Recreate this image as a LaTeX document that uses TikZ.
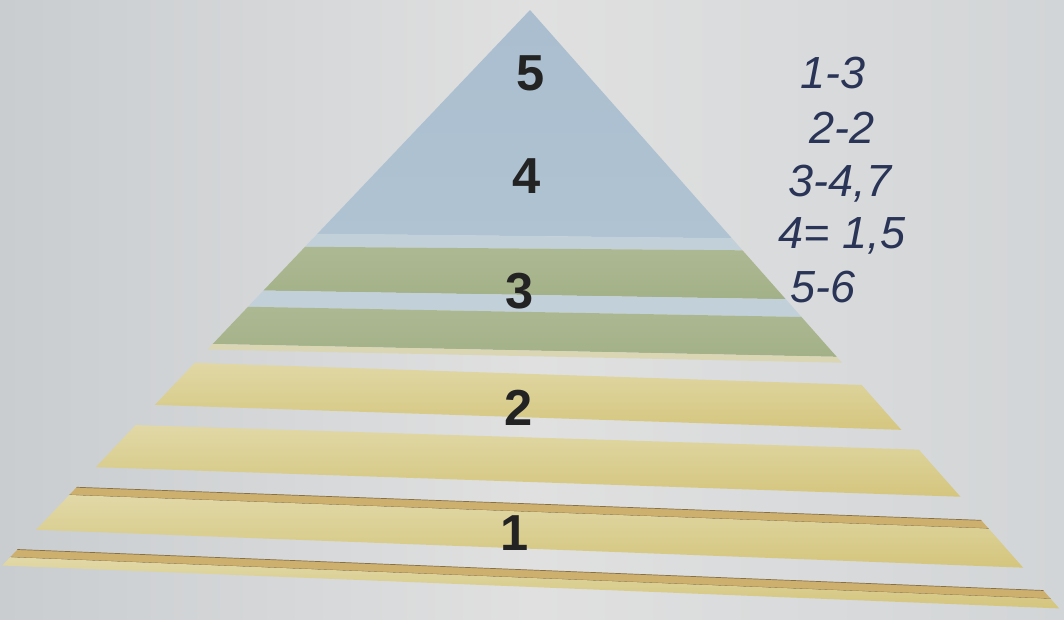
\documentclass[tikz,border=0pt]{standalone}
\usepackage{fontspec}
\setmainfont{Liberation Sans}
\newfontfamily\handfont{Liberation Sans}
\definecolor{paperL}{HTML}{C9CDD0}
\definecolor{paperM}{HTML}{E0E0E0}
\definecolor{paperR}{HTML}{D2D5D7}
\definecolor{blueA}{HTML}{A9BDCF}
\definecolor{blueB}{HTML}{B0C3D2}
\definecolor{pblue}{HTML}{C2D0DA}
\definecolor{greenA}{HTML}{ADB993}
\definecolor{greenB}{HTML}{A2B087}
\definecolor{creamc}{HTML}{DAD6B4}
\definecolor{yelA}{HTML}{E1D9A9}
\definecolor{yelB}{HTML}{D4C57C}
\definecolor{brownA}{HTML}{CDB06E}
\definecolor{brownD}{HTML}{85704A}
\definecolor{digitc}{HTML}{232323}
\definecolor{ink}{HTML}{2A3456}
\newcommand\pyrband[5]{\fill[#1] (-10,#2) -- (1074,#3) -- (1074,#5) -- (-10,#4) -- cycle;}
\newcommand\pyrshade[6]{\shade[top color=#1,bottom color=#2] (-10,#3) -- (1074,#4) -- (1074,#6) -- (-10,#5) -- cycle;}
\newcommand\pyrrule[4]{%
  \fill[brownA] (-10,#1) -- (1074,#2) -- (1074,#4) -- (-10,#3) -- cycle;
  \draw[brownD,line width=0.5pt] (-10,#1) -- (1074,#2);
  \draw[brownD,line width=0.5pt] (-10,#3) -- (1074,#4);}
\begin{document}
\begin{tikzpicture}[x=0.025cm,y=-0.025cm,
  digit/.style={font=\fontsize{36}{36}\selectfont\bfseries,text=digitc,inner sep=0pt},
  hand/.style={font=\handfont\itshape\fontsize{32}{32}\selectfont,text=ink,inner sep=0pt}]
\useasboundingbox (0,0) rectangle (1064,619);
\shade[left color=paperL,right color=paperR,middle color=paperM] (0,0) rectangle (1064,619);
\begin{scope}
  \clip (530,10) -- (-78,650) -- (1096,650) -- cycle;
  \pyrshade{blueA}{blueB}{-20}{-20}{230.2}{242}
  \pyrband{pblue}{230.2}{242}{244.2}{253}
  \pyrshade{greenA}{greenB}{244.2}{253}{286}{304}
  \pyrband{pblue}{286}{304}{302}{322}
  \pyrshade{greenA}{greenB}{302}{322}{339.4}{361.7}
  \pyrband{creamc}{339.4}{361.7}{345}{367.5}
  \pyrshade{yelA}{yelB}{356}{392}{399.4}{435.6}
  \pyrshade{yelA}{yelB}{420.5}{454.5}{463.5}{500.6}
  \pyrrule{484.1}{523.7}{492.1}{531.7}
  \pyrshade{yelA}{yelB}{492.1}{531.7}{528}{569.6}
  \pyrrule{548.4}{591.7}{556.4}{599.7}
  \pyrshade{yelA}{yelB}{556.4}{599.7}{565}{609}
\end{scope}
\node[digit] (n5) at (531,73) {5};
\node[digit] (n4) at (527,176) {4};
\node[digit] (n3) at (520,291) {3};
\node[digit] (n2) at (519,408) {2};
\node[digit] (n1) at (515,533) {1};
\node[hand] (h1) at (833,73) {1-3};
\node[hand] (h2) at (842,128) {2-2};
\node[hand] (h3) at (840,184) {3-4,7};
\node[hand] (h4) at (842,236) {4= 1,5};
\node[hand] (h5) at (823,287) {5-6};
\end{tikzpicture}
\end{document}
